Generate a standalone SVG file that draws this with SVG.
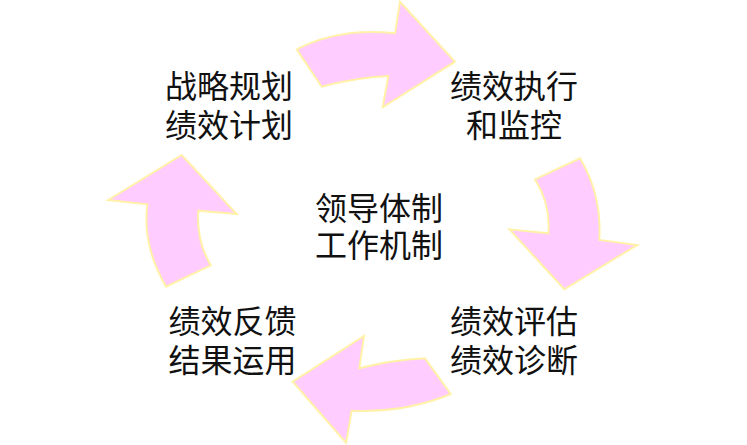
<svg xmlns="http://www.w3.org/2000/svg" width="747" height="445" viewBox="0 0 747 445">
<style>
.arrow{fill:#FFCCFF;stroke:#FFF2A8;stroke-width:2;stroke-linejoin:miter}
.lbl{font-family:"Noto Sans CJK SC","Noto Sans",sans-serif;font-size:32px;fill:#111111;text-anchor:middle}
</style>
<rect width="747" height="445" fill="#FFFFFF"/>
<g id="connectors">
<path class="arrow" d="M296.7,49.3 Q340,27 395,33.3 L400,1.7 L455,61.7 L382.7,107.3 L388.3,76 Q355,77.6 321.7,86.7 Z"/>
<path class="arrow" d="M535,179.3 L580,158.3 Q602,195 599.3,240 L637.3,245 L564.3,289.3 L509.3,229.3 L548.3,233.3 Q551,205 535,179.3 Z"/>
<path class="arrow" d="M450.7,394 Q405,413 351.7,410.7 L346,442.7 L292.7,381.7 L364,336 L359.3,368.3 Q392,360 425,358.3 Z"/>
<path class="arrow" d="M166,286.7 Q142,245 147.3,204.3 L108.3,200 L181.7,155 L236.7,214 L198.3,210.7 Q196,240 210.7,265.3 Z"/>
</g>
<g id="node-strategy"><text class="lbl" x="229" y="97.5">战略规划<tspan x="229" dy="39">绩效计划</tspan></text></g>
<g id="node-execute"><text class="lbl" x="514" y="97.5">绩效执行<tspan x="514" dy="39">和监控</tspan></text></g>
<g id="node-center"><text class="lbl" x="379" y="219.5">领导体制<tspan x="379" dy="37">工作机制</tspan></text></g>
<g id="node-evaluate"><text class="lbl" x="514" y="333">绩效评估<tspan x="514" dy="39">绩效诊断</tspan></text></g>
<g id="node-feedback"><text class="lbl" x="232.5" y="333">绩效反馈<tspan x="232.5" dy="39">结果运用</tspan></text></g>
</svg>
